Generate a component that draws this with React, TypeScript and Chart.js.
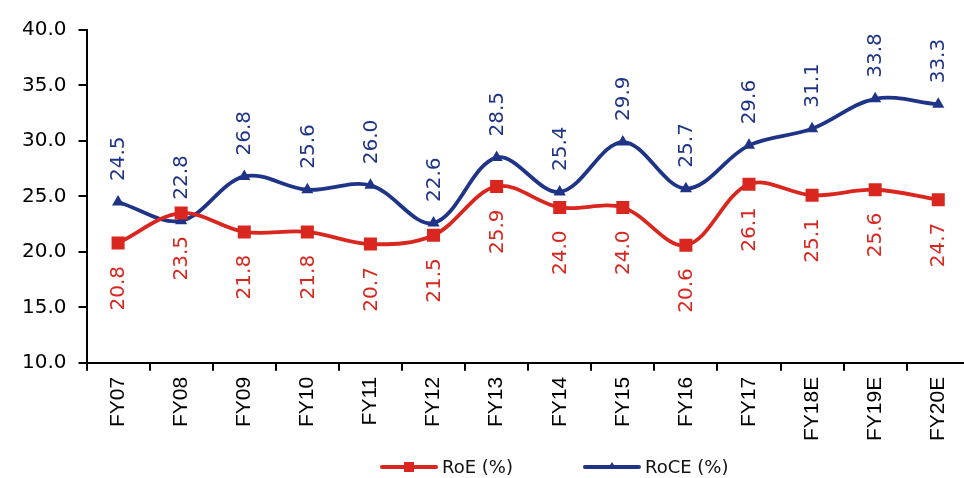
import React, { useEffect, useRef } from "react";
import { Chart, registerables } from "chart.js";

Chart.register(...registerables);

const categories = ["FY07", "FY08", "FY09", "FY10", "FY11", "FY12", "FY13", "FY14", "FY15", "FY16", "FY17", "FY18E", "FY19E", "FY20E"];
const roe = [20.8, 23.5, 21.8, 21.8, 20.7, 21.5, 25.9, 24.0, 24.0, 20.6, 26.1, 25.1, 25.6, 24.7];
const roce = [24.5, 22.8, 26.8, 25.6, 26.0, 22.6, 28.5, 25.4, 29.9, 25.7, 29.6, 31.1, 33.8, 33.3];
const yMin = 10;
const yMax = 40;
const yStep = 5;
const seriesNames = ["RoE (%)", "RoCE (%)"];

const RED = "#D9261E";
const BLUE = "#1F3487";
const NUM_FONT = '"DejaVu Sans", sans-serif';
const CAT_FONT = '"Liberation Sans", Arial, sans-serif';

const valueLabels = {
  id: "valueLabels",
  afterDatasetsDraw(chart: any) {
    const ctx = chart.ctx;
    chart.data.datasets.forEach((ds: any, i: number) => {
      const meta = chart.getDatasetMeta(i);
      const above = i === 1;
      meta.data.forEach((pt: any, j: number) => {
        const v = ds.data[j] as number;
        ctx.save();
        ctx.translate(pt.x, pt.y + (above ? -21 : 23));
        ctx.rotate(-Math.PI / 2);
        ctx.font = `20px ${NUM_FONT}`;
        ctx.fillStyle = ds.borderColor;
        ctx.textAlign = above ? "left" : "right";
        ctx.textBaseline = "middle";
        ctx.fillText(v.toFixed(1), 0, 1);
        ctx.restore();
      });
    });
  },
};

const customLegend = {
  id: "customLegend",
  afterDraw(chart: any) {
    const ctx = chart.ctx;
    const y = 467;
    const lineLen = 54;
    let x = 382;
    chart.data.datasets.forEach((ds: any, i: number) => {
      ctx.save();
      ctx.strokeStyle = ds.borderColor;
      ctx.lineWidth = 4;
      ctx.lineCap = "round";
      ctx.beginPath();
      ctx.moveTo(x, y);
      ctx.lineTo(x + lineLen, y);
      ctx.stroke();
      ctx.fillStyle = ds.borderColor;
      const cx = x + lineLen / 2;
      if (i === 0) {
        ctx.fillRect(cx - 5, y - 5, 10, 10);
      } else {
        ctx.beginPath();
        ctx.moveTo(cx, y - 5);
        ctx.lineTo(cx + 4.5, y + 2);
        ctx.lineTo(cx - 4.5, y + 2);
        ctx.closePath();
        ctx.fill();
      }
      ctx.font = `18px ${NUM_FONT}`;
      ctx.fillStyle = "#111";
      ctx.textAlign = "left";
      ctx.textBaseline = "middle";
      const tx = x + lineLen + 6;
      ctx.fillText(ds.label, tx, y + 1);
      const w = ctx.measureText(ds.label).width;
      ctx.restore();
      x = tx + w + 72;
    });
  },
};

export default function App() {
  const ref = useRef<HTMLCanvasElement | null>(null);
  useEffect(() => {
    if (!ref.current) return;
    const chart = new Chart(ref.current, {
      type: "line",
      data: {
        labels: categories,
        datasets: [
          {
            label: seriesNames[0],
            data: roe,
            borderColor: RED,
            backgroundColor: RED,
            borderWidth: 3.8,
            tension: 0.35,
            pointStyle: "rect",
            pointRadius: 9.2,
            pointHoverRadius: 9.2,
            pointBorderWidth: 0,
            pointBackgroundColor: RED,
          },
          {
            label: seriesNames[1],
            data: roce,
            borderColor: BLUE,
            backgroundColor: BLUE,
            borderWidth: 3.8,
            tension: 0.35,
            pointStyle: "triangle",
            pointRadius: 7,
            pointHoverRadius: 7,
            pointBorderWidth: 0,
            pointBackgroundColor: BLUE,
          },
        ],
      },
      options: {
        responsive: false,
        animation: false,
        devicePixelRatio: 1,
        layout: { padding: { left: 10, top: 30, right: 2, bottom: 31 } },
        plugins: {
          legend: { display: false },
          tooltip: { enabled: false },
        },
        scales: {
          x: {
            type: "category",
            offset: true,
            grid: {
              display: true,
              offset: true,
              drawOnChartArea: false,
              drawTicks: true,
              tickLength: 8,
              color: "#000",
              lineWidth: 2,
            },
            border: { display: true, color: "#000", width: 2 },
            ticks: {
              autoSkip: false,
              minRotation: 90,
              maxRotation: 90,
              padding: 6,
              color: "#000",
              font: { family: CAT_FONT, size: 21 },
            },
          },
          y: {
            min: yMin,
            max: yMax,
            grid: {
              display: true,
              drawOnChartArea: false,
              drawTicks: true,
              tickLength: 8,
              color: "#000",
              lineWidth: 2,
            },
            border: { display: true, color: "#000", width: 2 },
            ticks: {
              stepSize: yStep,
              padding: 12,
              color: "#000",
              font: { family: NUM_FONT, size: 20 },
              callback: (v: any) => Number(v).toFixed(1),
            },
          },
        },
      },
      plugins: [valueLabels, customLegend],
    });
    return () => chart.destroy();
  }, []);
  return (
    <div style={{ position: "fixed", left: 0, top: 0, width: 964, height: 478, overflow: "hidden", background: "#fff" }}>
      <canvas ref={ref} width={979} height={478} style={{ display: "block" }} />
    </div>
  );
}
